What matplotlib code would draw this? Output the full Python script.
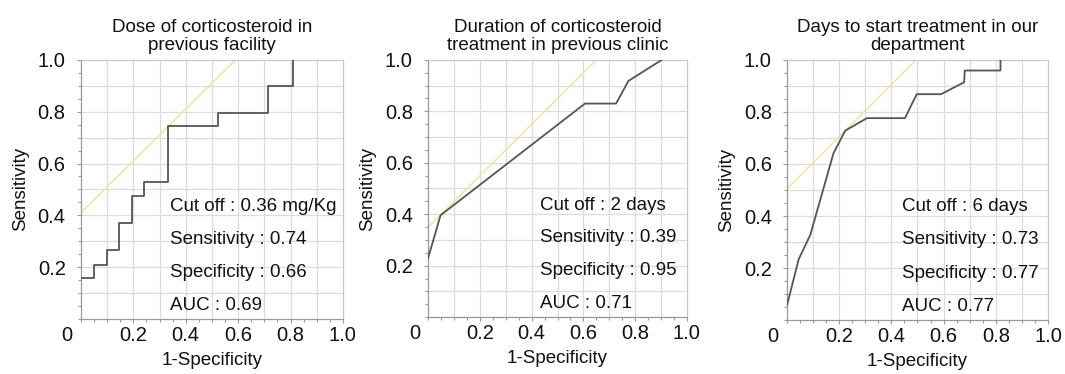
import matplotlib
matplotlib.use("Agg")
import matplotlib.pyplot as plt
from matplotlib.ticker import MultipleLocator

plt.rcParams['font.family'] = ['Liberation Sans', 'DejaVu Sans']

titles = ["Dose of corticosteroid in\nprevious facility",
          "Duration of corticosteroid\ntreatment in previous clinic",
          "Days to start treatment in our\ndepartment"]

# Panel 1 (step ROC)
fpr1 = [0.0, 0.051, 0.051, 0.098, 0.098, 0.146, 0.146, 0.193, 0.193, 0.24, 0.24,
        0.333, 0.333, 0.523, 0.523, 0.714, 0.714, 0.81, 0.81]
tpr1 = [0.157, 0.157, 0.21, 0.21, 0.266, 0.266, 0.372, 0.372, 0.476, 0.476, 0.528,
        0.528, 0.743, 0.743, 0.793, 0.793, 0.9, 0.9, 1.0]
# Panel 2
fpr2 = [0.0, 0.048, 0.606, 0.726, 0.774, 0.903]
tpr2 = [0.23, 0.396, 0.83, 0.83, 0.918, 1.0]
# Panel 3
fpr3 = [0.0, 0.045, 0.089, 0.178, 0.223, 0.306, 0.452, 0.497, 0.59, 0.679, 0.681, 0.818, 0.818]
tpr3 = [0.058, 0.235, 0.327, 0.641, 0.728, 0.776, 0.776, 0.868, 0.868, 0.914, 0.959, 0.959, 1.0]

# tangent (Youden) line intercepts
intercepts = [0.41, 0.35, 0.505]

stats = [["Cut off : 0.36 mg/Kg", "Sensitivity : 0.74", "Specificity : 0.66", "AUC : 0.69"],
         ["Cut off : 2 days", "Sensitivity : 0.39", "Specificity : 0.95", "AUC : 0.71"],
         ["Cut off : 6 days", "Sensitivity : 0.73", "Specificity : 0.77", "AUC : 0.77"]]
text_x = [0.34, 0.432, 0.44]

ticks = [0.2, 0.4, 0.6, 0.8, 1.0]
ticklabels = ["0.2", "0.4", "0.6", "0.8", "1.0"]

fig = plt.figure(figsize=(10.65, 3.74), dpi=100)
positions = [[0.076, 0.147, 0.246, 0.693],
             [0.402, 0.152, 0.243, 0.688],
             [0.739, 0.144, 0.245, 0.696]]
data = [(fpr1, tpr1), (fpr2, tpr2), (fpr3, tpr3)]

for i in range(3):
    ax = fig.add_axes(positions[i])
    fx, ty = data[i]
    b = intercepts[i]
    ax.plot([0, 1 - b], [b, 1.0], color="#ebe89a", lw=1.1, zorder=2)
    ax.plot(fx, ty, color="#555555", lw=1.3, zorder=3)
    ax.set_xlim(0, 1)
    ax.set_ylim(0, 1)
    ax.set_xticks(ticks)
    ax.set_xticklabels(ticklabels)
    ax.set_yticks(ticks)
    ax.set_yticklabels(ticklabels)
    ax.xaxis.set_minor_locator(MultipleLocator(0.05))
    ax.yaxis.set_minor_locator(MultipleLocator(0.05))
    ax.tick_params(which="both", length=3, width=0.8, color="#999999",
                   labelsize=14.5, labelcolor="#111111")
    ax.tick_params(axis="y", pad=8)
    ax.tick_params(axis="x", pad=2)
    ax.tick_params(which="minor", length=2)
    for v in [0.1, 0.2, 0.3, 0.4, 0.5, 0.6, 0.7, 0.8, 0.9]:
        ax.axvline(v, color="#dcdcdc", lw=0.9, zorder=0)
        ax.axhline(v, color="#dcdcdc", lw=0.9, zorder=0)
    for s in ax.spines.values():
        s.set_color("#c8c8c8")
        s.set_linewidth(0.9)
    ax.spines['left'].set_color("#999999")
    ax.spines['bottom'].set_color("#999999")
    ax.set_title(titles[i], fontsize=13.5, pad=7, linespacing=1.1, color="#111111")
    ax.set_xlabel("1-Specificity", fontsize=13.5, labelpad=5, color="#111111")
    ax.set_ylabel("Sensitivity", fontsize=13.5, labelpad=6, color="#111111")
    ax.text(-0.053, -0.025, "0", transform=ax.transAxes, ha="center", va="top",
            fontsize=14.5, color="#111111")
    for k, line in enumerate(stats[i]):
        ax.text(text_x[i], 0.435 - 0.127 * k, line, fontsize=13.5, ha="left", va="center",
                zorder=4, color="#111111")

fig.savefig("out.png", dpi=100)
